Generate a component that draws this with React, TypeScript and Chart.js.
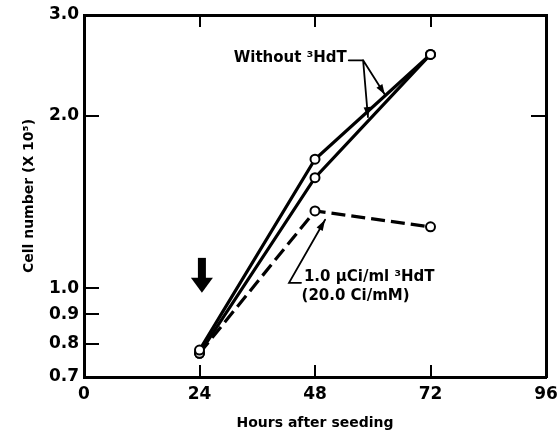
import { useEffect, useRef } from "react";
import { Chart, registerables } from "chart.js";

Chart.register(...registerables);

// ---- data ----
const hours = [24, 48, 72];
const withoutA = [0.78, 1.68, 2.56];
const withoutB = [0.77, 1.56, 2.56];
const treated = [0.77, 1.365, 1.28];
const xTicks = [0, 24, 48, 72, 96];
const yTicks = [0.7, 0.8, 0.9, 1.0, 2.0, 3.0];
const yTicksRight = [0.7, 2.0, 3.0];
const xTitle = "Hours after seeding";
const yTitle = "Cell number (X 10\u2075)";
const labelWithout = "Without \u00B3HdT";
const labelTreated1 = "1.0 \u00B5Ci/ml \u00B3HdT";
const labelTreated2 = "(20.0 Ci/mM)";

const FONT = "'DejaVu Sans', sans-serif";

function tri(ctx: CanvasRenderingContext2D, fx: number, fy: number, tx: number, ty: number, len: number, half: number) {
  const a = Math.atan2(ty - fy, tx - fx);
  const bx = tx - Math.cos(a) * len;
  const by = ty - Math.sin(a) * len;
  ctx.beginPath();
  ctx.moveTo(tx, ty);
  ctx.lineTo(bx + Math.sin(a) * half, by - Math.cos(a) * half);
  ctx.lineTo(bx - Math.sin(a) * half, by + Math.cos(a) * half);
  ctx.closePath();
  ctx.fill();
}

const annotPlugin = {
  id: "annot",
  afterDraw(chart: any) {
    const ctx: CanvasRenderingContext2D = chart.ctx;
    const xs = chart.scales.x;
    const ys = chart.scales.y;
    const px = (v: number) => xs.getPixelForValue(v);
    const py = (v: number) => ys.getPixelForValue(v);
    ctx.save();
    ctx.fillStyle = "#000";
    ctx.strokeStyle = "#000";
    ctx.lineCap = "round";

    // big downward arrow at 24 h
    const ax = px(24.5);
    const aTop = py(1.13);
    const aBase = py(1.043);
    const aTip = py(0.982);
    ctx.fillRect(ax - 4, aTop, 8, aBase - aTop + 1);
    ctx.beginPath();
    ctx.moveTo(ax - 11, aBase);
    ctx.lineTo(ax + 11, aBase);
    ctx.lineTo(ax, aTip);
    ctx.closePath();
    ctx.fill();

    // "Without 3HdT" label with two arrows
    ctx.font = `bold 15px ${FONT}`;
    ctx.textAlign = "right";
    ctx.textBaseline = "middle";
    const tX = px(54.6);
    const tY = py(2.52);
    ctx.fillText(labelWithout, tX, tY);
    const jx = px(58.0);
    const jy = py(2.5);
    ctx.lineWidth = 1.8;
    ctx.beginPath();
    ctx.moveTo(tX + 2, jy);
    ctx.lineTo(jx, jy);
    ctx.stroke();
    const t1x = px(59.0), t1y = py(1.99);
    const t2x = px(62.5), t2y = py(2.18);
    ctx.beginPath();
    ctx.moveTo(jx, jy);
    ctx.lineTo(t1x, t1y);
    ctx.moveTo(jx, jy);
    ctx.lineTo(t2x, t2y);
    ctx.stroke();
    tri(ctx, jx, jy, t1x, t1y, 10, 3.5);
    tri(ctx, jx, jy, t2x, t2y, 10, 3.5);

    // treated label with arrow
    const fx = px(42.6), fy = py(1.022);
    const fx2 = px(45.1);
    const tipx = px(50.1), tipy = py(1.317);
    ctx.beginPath();
    ctx.moveTo(fx2, fy);
    ctx.lineTo(fx, fy);
    ctx.lineTo(tipx, tipy);
    ctx.stroke();
    tri(ctx, fx, fy, tipx, tipy, 11, 3.5);
    ctx.textAlign = "left";
    ctx.fillText(labelTreated1, px(45.7), py(1.047));
    ctx.fillText(labelTreated2, px(45.2), py(0.97));
    ctx.restore();
  },
};

const zeroPad = (s: any) => {
  s.paddingTop = 0;
  s.paddingBottom = 0;
  s.paddingLeft = 0;
  s.paddingRight = 0;
};

export default function App() {
  const ref = useRef<HTMLCanvasElement>(null);
  useEffect(() => {
    if (!ref.current) return;
    const common = {
      borderColor: "#000",
      borderWidth: 3.2,
      pointRadius: 4.5,
      pointBorderWidth: 2,
      pointBackgroundColor: "#fff",
      pointBorderColor: "#000",
      fill: false,
      tension: 0,
    };
    const chart = new Chart(ref.current, {
      type: "line",
      data: {
        datasets: [
          { ...common, label: "A", data: hours.map((h, i) => ({ x: h, y: withoutA[i] })) },
          { ...common, label: "B", data: hours.map((h, i) => ({ x: h, y: withoutB[i] })) },
          {
            ...common,
            label: "C",
            borderDash: [14, 6],
            data: hours.map((h, i) => ({ x: h, y: treated[i] })),
          },
        ],
      },
      options: {
        responsive: false,
        animation: false,
        layout: { padding: 0 },
        plugins: { legend: { display: false }, tooltip: { enabled: false } },
        scales: {
          x: {
            type: "linear",
            position: "bottom",
            min: 0,
            max: 96,
            afterBuildTicks: (s: any) => {
              s.ticks = xTicks.map((v) => ({ value: v }));
            },
            afterFit: (s: any) => {
              s.height = 55;
              zeroPad(s);
            },
            border: { display: true, width: 3, color: "#000" },
            grid: { drawOnChartArea: false, drawTicks: true, tickLength: -12, color: "#000", lineWidth: 2 },
            ticks: {
              padding: 19,
              color: "#000",
              font: { family: FONT, size: 17, weight: "bold" },
              maxRotation: 0,
            },
            title: {
              display: true,
              text: xTitle,
              color: "#000",
              font: { family: FONT, size: 14, weight: "bold" },
              padding: { top: 4, bottom: 0 },
            },
          },
          x2: {
            type: "linear",
            position: "top",
            min: 0,
            max: 96,
            afterBuildTicks: (s: any) => {
              s.ticks = xTicks.map((v) => ({ value: v }));
            },
            afterFit: (s: any) => {
              s.height = 15;
              zeroPad(s);
            },
            border: { display: true, width: 3, color: "#000" },
            grid: { drawOnChartArea: false, drawTicks: true, tickLength: -12, color: "#000", lineWidth: 2 },
            ticks: { display: false },
          },
          y: {
            type: "logarithmic",
            position: "left",
            min: 0.7,
            max: 3.0,
            afterBuildTicks: (s: any) => {
              s.ticks = yTicks.map((v) => ({ value: v }));
            },
            afterFit: (s: any) => {
              s.width = 84;
              zeroPad(s);
            },
            border: { display: true, width: 3, color: "#000" },
            grid: { drawOnChartArea: false, drawTicks: true, tickLength: -15, color: "#000", lineWidth: 2 },
            ticks: {
              padding: 20,
              color: "#000",
              font: { family: FONT, size: 17, weight: "bold" },
              callback: (v: any) => Number(v).toFixed(1),
            },
            title: {
              display: true,
              text: yTitle,
              color: "#000",
              font: { family: FONT, size: 14, weight: "bold" },
              padding: { top: 21, bottom: 0 },
            },
          },
          y2: {
            type: "logarithmic",
            position: "right",
            min: 0.7,
            max: 3.0,
            afterBuildTicks: (s: any) => {
              s.ticks = yTicksRight.map((v) => ({ value: v }));
            },
            afterFit: (s: any) => {
              s.width = 11;
              zeroPad(s);
            },
            border: { display: true, width: 3, color: "#000" },
            grid: { drawOnChartArea: false, drawTicks: true, tickLength: -15, color: "#000", lineWidth: 2 },
            ticks: { display: false },
          },
        },
      },
      plugins: [annotPlugin],
    } as any);
    return () => chart.destroy();
  }, []);
  return (
    <div style={{ position: "absolute", left: 0, top: 0, width: 557, height: 432, background: "#fff" }}>
      <canvas ref={ref} width={557} height={432} />
    </div>
  );
}
